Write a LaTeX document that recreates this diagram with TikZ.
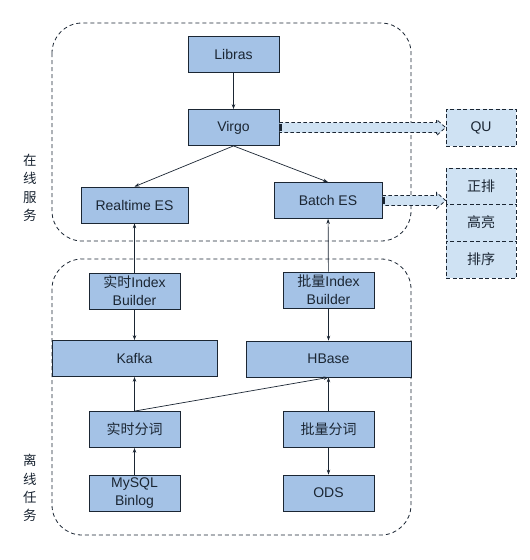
\documentclass[tikz,border=0pt]{standalone}
\usepackage{fontspec}
\setmainfont{Liberation Sans}
\newfontfamily\cjk{Noto Sans CJK SC}
\usetikzlibrary{calc,arrows.meta}
\definecolor{boxfill}{HTML}{A4C2E6}
\definecolor{lightfill}{HTML}{CFE2F3}
\definecolor{ink}{HTML}{1B2633}
\begin{document}
\begin{tikzpicture}[x=1pt,y=-1pt,
  box/.style={draw=ink, line width=0.8pt, fill=boxfill, minimum width=91pt, minimum height=36pt,
    inner sep=0pt, font=\fontsize{14}{18}\selectfont, text=ink, align=center},
  widebox/.style={box, minimum width=165pt},
  sidebox/.style={box, fill=lightfill, dash pattern=on 4pt off 2.5pt, minimum width=70pt},
  flow/.style={-{Stealth[length=5pt,width=3.5pt]}, line width=0.7pt, draw=ink},
  zone/.style={draw=ink, line width=0.8pt, dash pattern=on 4pt off 3pt, rounded corners=30pt},
  fat/.style={draw=ink, fill=lightfill, line width=0.8pt, dash pattern=on 3.5pt off 2.5pt},
  vlabel/.style={font=\cjk\fontsize{13.5}{18.3}\selectfont, text=ink, align=center, inner sep=0pt}
]
\useasboundingbox (0,0) rectangle (530,560);
\fill[white] (0,0) rectangle (530,560);

% containers
\draw[zone] (52,23) rectangle (411,241);
\draw[zone] (52,259) rectangle (411,535);

% side labels
\node[vlabel] (online) at (30,188) {在\\线\\服\\务};
\node[vlabel] (offline) at (30,488) {离\\线\\任\\务};

% boxes
\node[box] (libras) at (233.5,54.5) {Libras};
\node[box] (virgo) at (233.5,127.5) {Virgo};
\node[box, minimum width=107pt] (rtes) at (134.5,205) {Realtime ES};
\node[box, minimum width=108pt] (bes) at (328,200.5) {Batch ES};
\node[box] (rtib) at (134.5,291) {{\cjk 实时}Index\\Builder};
\node[box] (btib) at (328.5,290) {{\cjk 批量}Index\\Builder};
\node[widebox] (kafka) at (134.5,358.5) {Kafka};
\node[widebox] (hbase) at (328.5,359) {HBase};
\node[box] (rtseg) at (134.5,429.5) {\cjk 实时分词};
\node[box] (btseg) at (328.5,429.5) {\cjk 批量分词};
\node[box] (mysql) at (134.5,493) {MySQL\\Binlog};
\node[box] (ods) at (328.5,493) {ODS};

\node[sidebox, minimum height=37pt] (qu) at (481,127.5) {QU};
\node[sidebox] (zp) at (481,186) {\cjk 正排};
\node[sidebox, minimum height=37pt] (gl) at (481,222.5) {\cjk 高亮};
\node[sidebox, minimum height=37pt] (px) at (481,259.5) {\cjk 排序};

% connectors
\draw[flow] (libras) -- (virgo);
\draw[flow] (virgo.south) -- (rtes.north);
\draw[flow] (virgo.south) -- (bes.north);
\draw[flow] (rtib) -- (rtes);
\draw[flow] (btib) -- (bes);
\draw[flow] (rtib) -- (kafka);
\draw[flow] (btib) -- (hbase);
\draw[flow] (rtseg) -- (kafka);
\draw[flow] (rtseg.north) -- (hbase.south);
\draw[flow] (btseg) -- (hbase);
\draw[flow] (mysql) -- (rtseg);
\draw[flow] (btseg) -- (ods);

% hollow dashed arrows
\coordinate (qtip) at (qu.west);
\draw[fat] ($(virgo.east)+(0,-5)$) -- ($(qtip)+(-9,-5)$) -- ($(qtip)+(-9,-8)$) -- (qtip)
  -- ($(qtip)+(-9,8)$) -- ($(qtip)+(-9,5)$) -- ($(virgo.east)+(0,5)$) -- cycle;
\fill[ink] ($(virgo.east)+(0,-3.5)$) rectangle ($(virgo.east)+(2.5,3.5)$);

\coordinate (btip) at (bes.east -| zp.west);
\draw[fat] ($(bes.east)+(0,-5)$) -- ($(btip)+(-9,-5)$) -- ($(btip)+(-9,-8)$) -- (btip)
  -- ($(btip)+(-9,8)$) -- ($(btip)+(-9,5)$) -- ($(bes.east)+(0,5)$) -- cycle;
\fill[ink] ($(bes.east)+(0,-3.5)$) rectangle ($(bes.east)+(2.5,3.5)$);
\end{tikzpicture}
\end{document}
